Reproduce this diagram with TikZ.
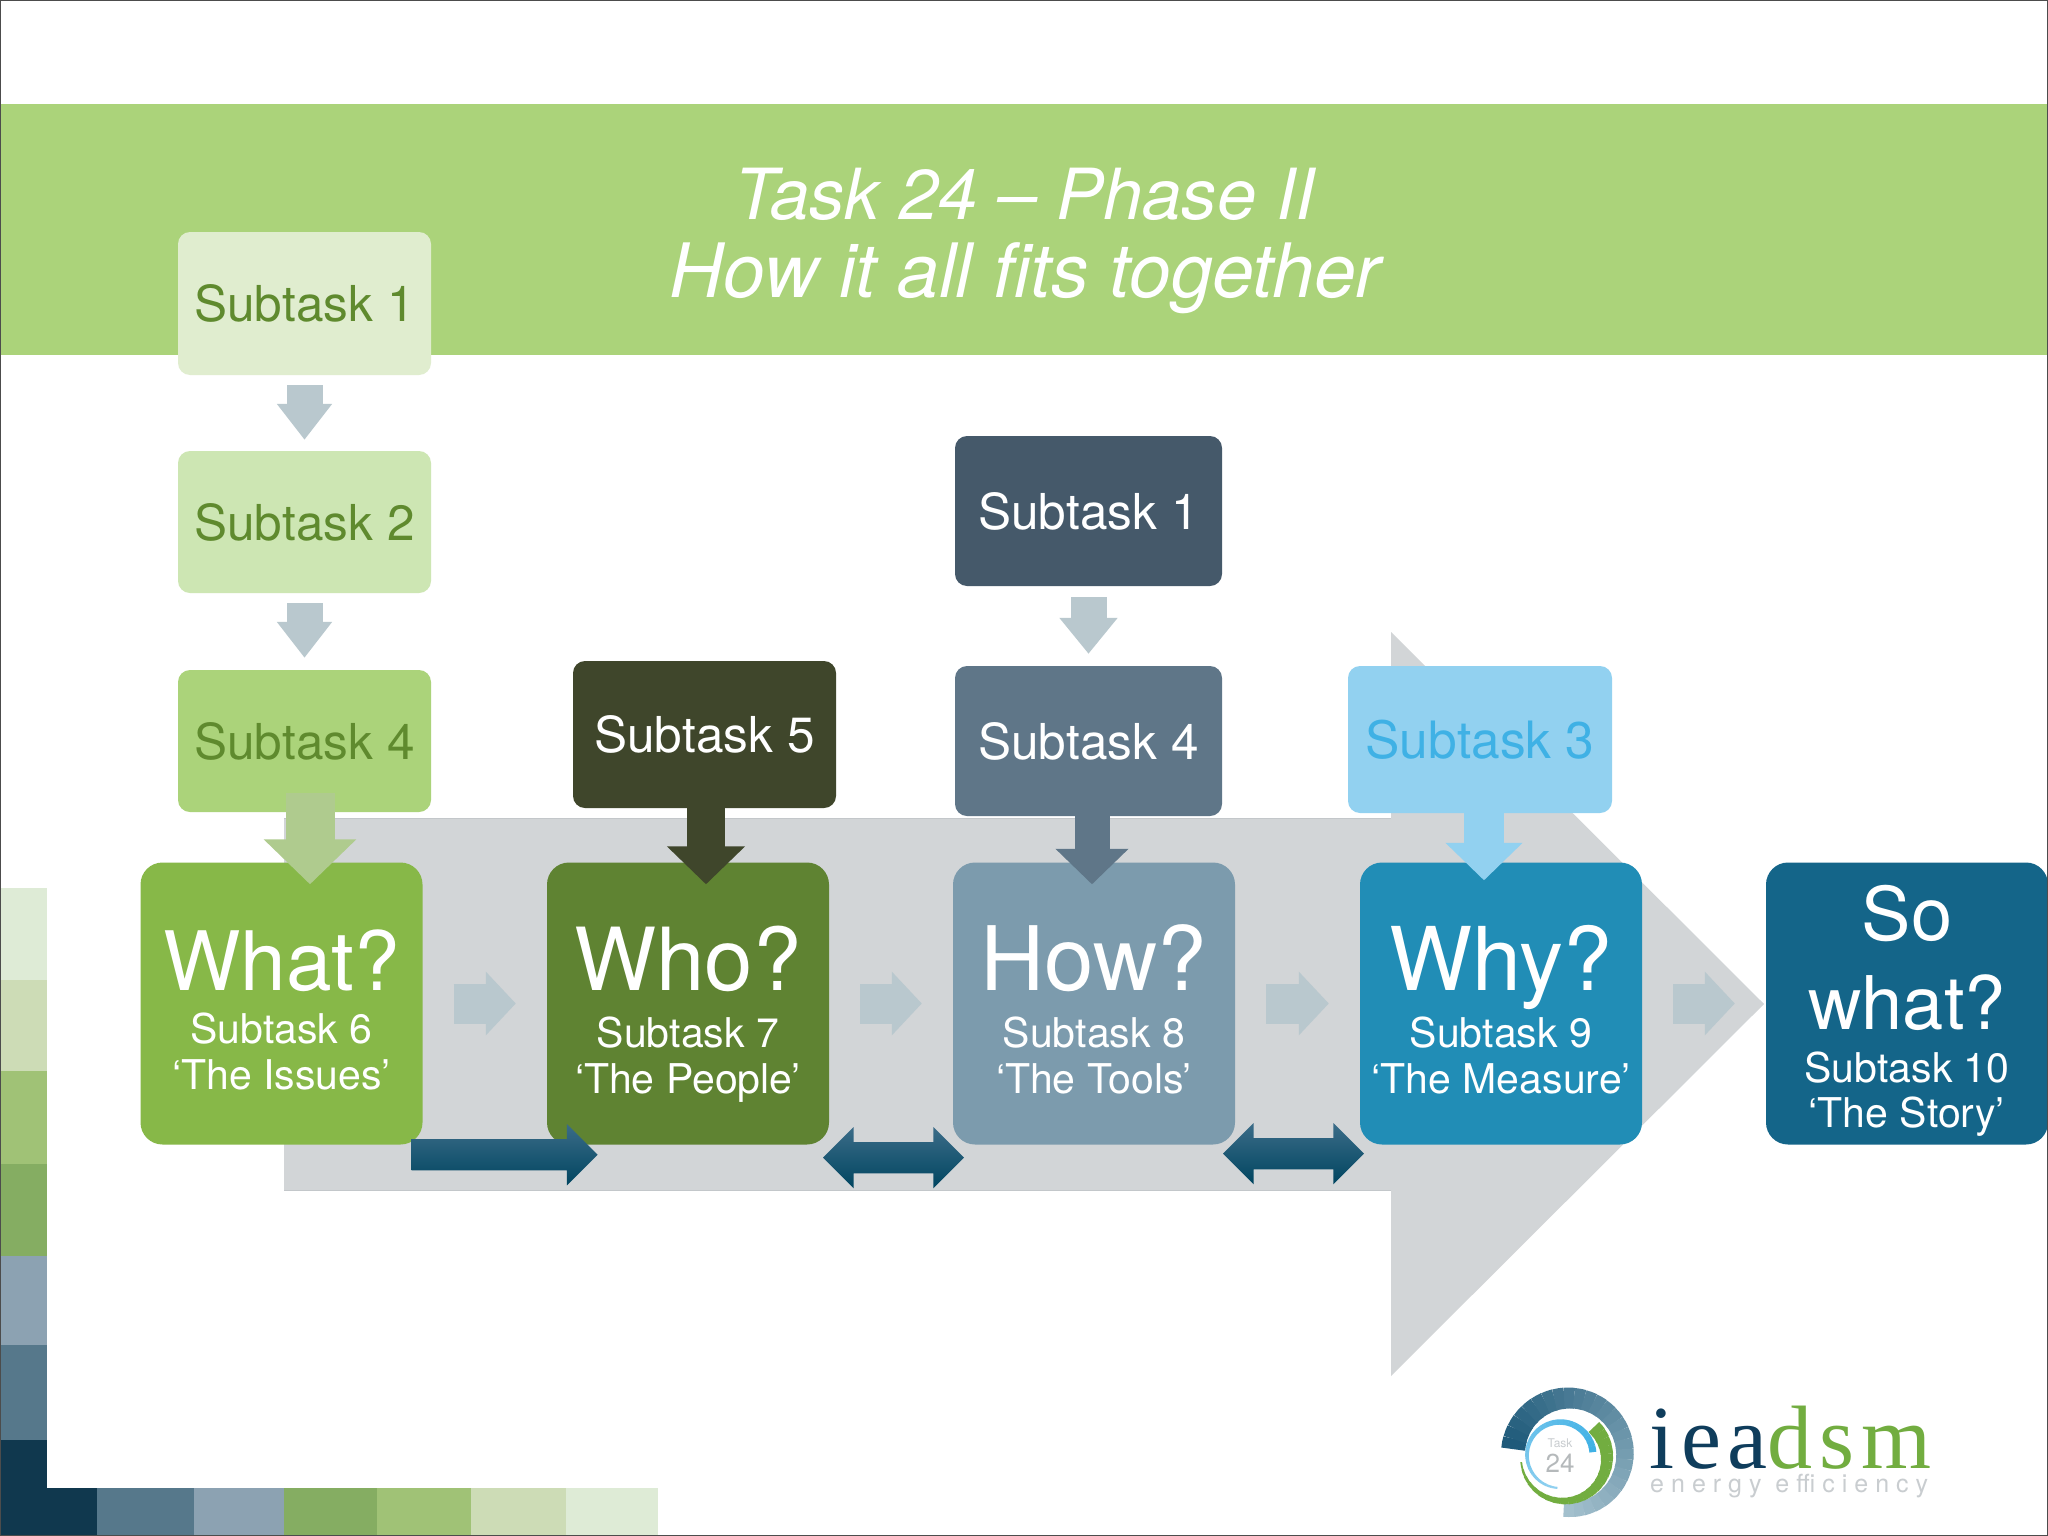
\documentclass[tikz,border=0pt]{standalone}
\usepackage{fontspec}
\usetikzlibrary{arrows.meta, calc, shapes.arrows}
\setmainfont{TeX Gyre Heros}
\newfontfamily\logoserif[LetterSpace = 7.7]{Liberation Serif}
\newfontfamily\logosans[LetterSpace = 28]{TeX Gyre Heros}

\definecolor{bannergreen}{HTML}{ABD37A}
\definecolor{paleone}{HTML}{E0EDCF}
\definecolor{paletwo}{HTML}{CDE6B3}
\definecolor{leaftext}{HTML}{5F8A2E}
\definecolor{oliveboss}{HTML}{3F462B}
\definecolor{slateone}{HTML}{45596A}
\definecolor{slatetwo}{HTML}{5F7688}
\definecolor{skybox}{HTML}{92D1F0}
\definecolor{skytext}{HTML}{3FB1E5}
\definecolor{whatfill}{HTML}{87B848}
\definecolor{whofill}{HTML}{5F8332}
\definecolor{howfill}{HTML}{7C9BAD}
\definecolor{whyfill}{HTML}{218DB6}
\definecolor{sofill}{HTML}{146589}
\definecolor{bigarrow}{HTML}{D2D5D7}
\definecolor{bigarrowedge}{HTML}{C3C7CA}
\definecolor{steparrow}{HTML}{B9C8CE}
\definecolor{dropgreen}{HTML}{AFCB8E}
\definecolor{linktop}{HTML}{3B6C88}
\definecolor{linkbottom}{HTML}{004560}
\definecolor{stripa}{HTML}{DEEBD6}
\definecolor{stripb}{HTML}{CDDCB6}
\definecolor{stripc}{HTML}{A0C276}
\definecolor{stripd}{HTML}{85AD62}
\definecolor{stripe}{HTML}{8CA2B2}
\definecolor{stripf}{HTML}{56788B}
\definecolor{stripg}{HTML}{10384E}
\definecolor{logodark}{HTML}{1F5A7A}
\definecolor{logolight}{HTML}{A3C0CD}
\definecolor{logonavy}{HTML}{0F3D5C}
\definecolor{logogreen}{HTML}{72AD40}
\definecolor{logogrey}{HTML}{C9CDD0}

\newcommand{\asklabel}[5]{\rule{0pt}{\dimexpr33pt+#2\relax}{\fontsize{#1}{#1}\selectfont\smash{#3}}\\[\dimexpr#2-46pt\relax]#4\\#5\strut}

\begin{document}
\begin{tikzpicture}[x = 1pt, y = -1pt,
    subbox/.style = {shape = rectangle, rounded corners = 12pt, inner sep = 0pt, font = \fontsize{49.5}{54}\selectfont},
    askbox/.style = {shape = rectangle, rounded corners = 22pt, inner sep = 0pt, minimum width = 282pt, minimum height = 282pt,
        align = center, text = white, font = \fontsize{41}{46}\selectfont},
    stepper/.style = {draw = steparrow, line width = 40pt, -{Triangle[length = 30pt, width = 62pt]}, shorten < = 31pt, shorten > = 31pt},
    smalldrop/.style = {draw = steparrow, line width = 36pt, -{Triangle[length = 36pt, width = #1]}},
    bigdrop/.style 2 args = {line width = #1, -{Triangle[length = 0.5*#2, width = #2]}},
    linker/.style = {top color = linktop, middle color = linkbottom, bottom color = linkbottom, inner sep = 0pt,
        text height = 31pt, text depth = 0pt, text width = 0pt},
    onearrow/.style = {linker, shape = single arrow, single arrow head extend = 15pt, single arrow head indent = 0pt},
    twoarrow/.style = {linker, shape = double arrow, double arrow head extend = 15pt, double arrow head indent = 0pt}]
    \useasboundingbox (0,0) rectangle (2048,1536);
    \fill[white] (0,0) rectangle (2048,1536);

    \fill[bannergreen] (0,104) rectangle (2048,355);
    \node (title) [align = center, text = white, font = \fontsize{75}{78}\selectfont\itshape] at (1025,241) {{\fontsize{70.5}{78}\selectfont Task 24 -- Phase II}\\How it all fits together};

    \foreach \ya/\yb/\col in {888/980/stripa, 980/1071/stripb, 1071/1164/stripc, 1164/1256/stripd, 1256/1345/stripe, 1345/1440/stripf, 1440/1536/stripg}
        \fill[\col] (0,\ya) rectangle (47,\yb);
    \foreach \xa/\xb/\col in {0/97/stripg, 97/194/stripf, 194/284/stripe, 284/377/stripd, 377/471/stripc, 471/566/stripb, 566/658/stripa}
        \fill[\col] (\xa,1488) rectangle (\xb,1536);

    \fill[bigarrow] (284,818) -- (1391,818) -- (1391,632) -- (1764,1004) -- (1391,1376) -- (1391,1190) -- (284,1190) -- cycle;
    \draw[draw = bigarrowedge, line width = 1pt] (284,818) -- (1391,818);
    \draw[draw = bigarrowedge, line width = 1pt] (284,1190) -- (1391,1190);

    \node (subone) [subbox, fill = paleone, text = leaftext, minimum width = 253pt, minimum height = 143pt] at (304.5,303.5) {Subtask 1};
    \node (subtwo) [subbox, fill = paletwo, text = leaftext, minimum width = 253pt, minimum height = 142pt] at (304.5,522) {Subtask 2};
    \node (subfour) [subbox, fill = bannergreen, text = leaftext, minimum width = 253pt, minimum height = 142pt] at (304.5,741) {Subtask 4};
    \node (subfive) [subbox, fill = oliveboss, text = white, minimum width = 263pt, minimum height = 147pt] at (704.5,734.5) {Subtask 5};
    \node (slatesub) [subbox, fill = slateone, text = white, minimum width = 267pt, minimum height = 150pt] at (1088.5,511) {Subtask 1};
    \node (slatefour) [subbox, fill = slatetwo, text = white, minimum width = 267pt, minimum height = 150pt] at (1088.5,741) {Subtask 4};
    \node (skysub) [subbox, fill = skybox, text = skytext, minimum width = 264pt, minimum height = 147pt, font = \fontsize{51.5}{56}\selectfont] at (1480,739.5) {Subtask 3};

    \node (what) [askbox, fill = whatfill] at (281.5,1003.5) {\asklabel{82}{53pt}{What?}{Subtask 6}{‘The Issues’}};
    \node (who) [askbox, fill = whofill] at (688,1003.5) {\asklabel{87}{57pt}{Who?}{Subtask 7}{‘The People’}};
    \node (how) [askbox, fill = howfill] at (1094,1003.5) {\asklabel{89}{57pt}{How?}{Subtask 8}{‘The Tools’}};
    \node (why) [askbox, fill = whyfill] at (1501,1003.5) {\asklabel{88}{57pt}{Why?}{Subtask 9}{‘The Measure’}};
    \node (sowhat) [askbox, fill = sofill] at (1907,1003.5) {\rule{0pt}{74.5pt}{\fontsize{74}{74}\selectfont So}\\[32pt]{\fontsize{74}{74}\selectfont what?}\\[7.5pt]Subtask 10\\[-1pt]‘The Story’\strut};

    \draw[stepper] (what) -- (who);
    \draw[stepper] (who) -- (how);
    \draw[stepper] (how) -- (why);
    \draw[stepper] (why) -- (sowhat);

    \draw[smalldrop = 53pt, shorten < = 10pt, shorten > = 11pt] (subone.south) -- (subtwo.north);
    \draw[smalldrop = 53pt, shorten < = 10pt, shorten > = 12pt] (subtwo.south) -- (subfour.north);
    \draw[smalldrop = 56pt, shorten < = 11pt, shorten > = 12pt] (slatesub.south) -- (slatefour.north);

    \draw[bigdrop = {49pt}{90pt}, draw = dropgreen] ([xshift = 5.5pt, yshift = 19pt]subfour.south) -- ([xshift = 28.5pt, yshift = -22pt]what.north);
    \draw[bigdrop = {38pt}{76pt}, draw = oliveboss] ([xshift = 1.5pt]subfive.south) -- ([xshift = 18pt, yshift = -22pt]who.north);
    \draw[bigdrop = {35pt}{71pt}, draw = slatetwo] ([xshift = 3.5pt]slatefour.south) -- ([xshift = -2pt, yshift = -22pt]how.north);
    \draw[bigdrop = {40pt}{75pt}, draw = skybox] ([xshift = 4pt]skysub.south) -- ([xshift = -17pt, yshift = -18pt]why.north);

    \node (linkone) [onearrow, minimum height = 186pt] at ($(what.south east)!0.5!(who.south west)+(12,10)$) {};
    \node (linktwo) [twoarrow, minimum height = 141pt] at ($(who.south east)!0.5!(how.south west)+(2.5,13)$) {};
    \node (linkthree) [twoarrow, minimum height = 141pt] at ($(how.south east)!0.5!(why.south west)+(-4,9)$) {};

    \coordinate (logoc) at (1569,1454);
    \foreach \a [evaluate = \a as \m using {(\a+85)/2.6}, evaluate = \a as \w using {14+10*(\a+85)/260}] in {175,165,...,-85}
        \draw[draw = logodark!\m!logolight, line width = \w pt] ([shift = {(\a:56pt)}]logoc) arc[start angle = \a, end angle = \a-10.5, radius = 56pt];
    \coordinate (logog) at (1564,1458);
    \foreach \a [evaluate = \a as \w using {1.5+13*(\a+168)/214}] in {46,36,...,-164}
        \draw[draw = logogreen, line width = \w pt] ([shift = {(\a:43pt)}]logog) arc[start angle = \a, end angle = \a-10.5, radius = 43pt];
    \coordinate (logob) at (1560,1455);
    \foreach \a [evaluate = \a as \m using {(262-\a)/2.57}, evaluate = \a as \w using {2+5*(262-\a)/257}] in {5,15,...,255}
        \draw[draw = skytext!\m!skybox, line width = \w pt] ([shift = {(\a:33pt)}]logob) arc[start angle = \a, end angle = \a+10.5, radius = 33pt];
    \node (logotask) [text = logogrey, font = \fontsize{12}{12}\selectfont, inner sep = 0pt] at (1560,1443) {Task};
    \node (logonum) [text = logogrey!90!black, font = \fontsize{26}{26}\selectfont, inner sep = 0pt] at (1560,1463) {24};
    \node (logoname) [anchor = base west, inner sep = 0pt, font = \fontsize{90}{90}\logoserif] at (1649,1468) {\textcolor{logonavy}{iea}\textcolor{logogreen}{dsm}};
    \node (logotag) [anchor = base west, inner sep = 0pt, text = logogrey, font = \fontsize{25}{25}\logosans] at (1650,1492) {energy efficiency};

    \draw[draw = black!70, line width = 2pt] (0,0) rectangle (2048,1536);
\end{tikzpicture}
\end{document}
